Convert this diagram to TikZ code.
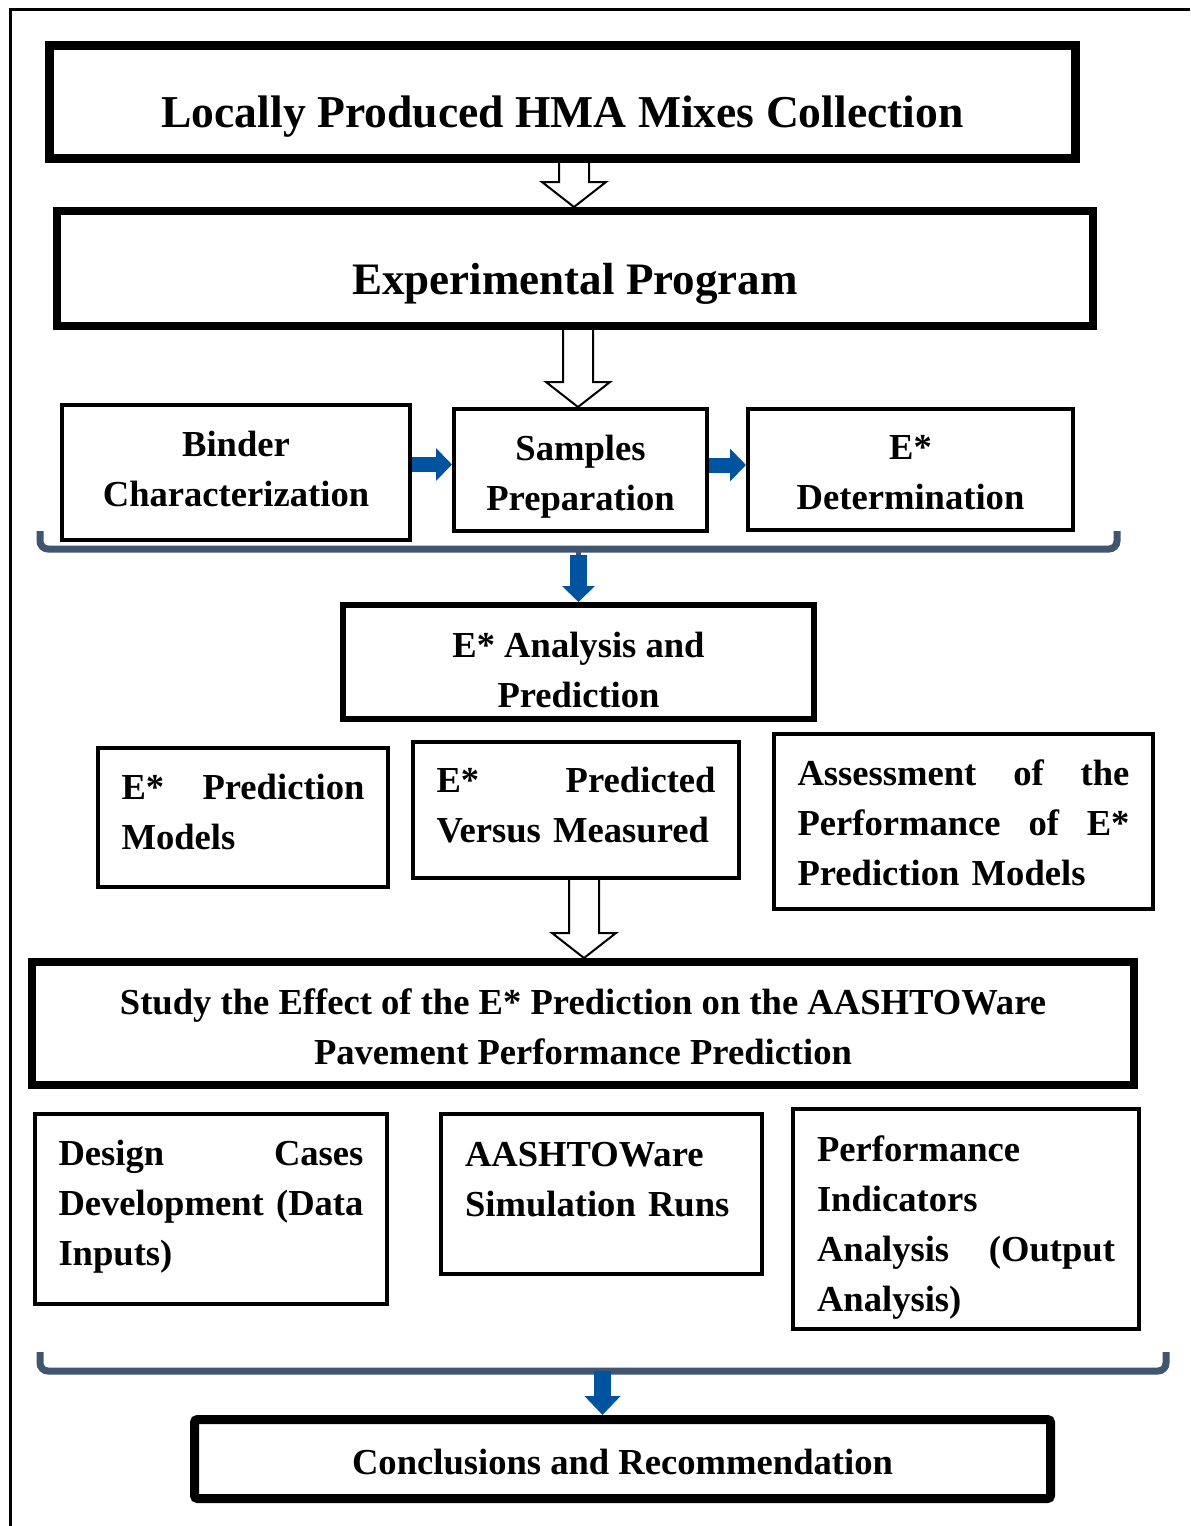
\documentclass[tikz,border=0pt]{standalone}
\usepackage{fontspec}
\setmainfont{Liberation Serif}
\usetikzlibrary{positioning, calc, arrows.meta}

\definecolor{arrblue}{RGB}{0,84,159}
\definecolor{bracegrey}{RGB}{63,85,112}

\begin{document}
\begin{tikzpicture}[
  x=0.5pt, y=-0.5pt,
  every node/.style={font=\bfseries\fontsize{18.3}{25}\selectfont, inner sep=0pt},
  bigbox/.style={draw, line width=4.5pt, font=\bfseries\fontsize{22.8}{28}\selectfont, text height=25pt, text depth=0pt},
  box/.style={draw, line width=2pt, text height=13pt},
  hollow/.style={draw, line width=1pt, line join=miter},
  bluearr/.style={draw=arrblue, line width=7.5pt, -{Triangle[length=8pt, width=16pt]}},
  brace/.style={draw=bracegrey, line width=3.5pt, rounded corners=4pt},
]
\useasboundingbox (0,0) rectangle (1190,1526);

% Outer frame
\draw[line width=1.5pt] (10,1526) -- (10,9) -- (1190,9);

% Main stages
\node[bigbox, minimum width=513pt, minimum height=56.5pt] (coll) at (562.5,102) {Locally Produced HMA Mixes Collection};
\node[bigbox, line width=4pt, font=\bfseries\fontsize{22.5}{28}\selectfont, text height=25.5pt, minimum width=518pt, minimum height=57.5pt] (expt) at (575,268.5) {Experimental Program};

% Experimental steps
\node[box, text width=160pt, align=flush center, text depth=29.5pt, minimum width=174pt, minimum height=67.5pt] (binder) at (236,472.5) {Binder\\Characterization};
\node[box, text width=120pt, align=flush center, text depth=23pt, minimum width=126.5pt, minimum height=61pt] (samples) at (580.5,470) {Samples\\Preparation};
\node[box, text width=150pt, align=flush center, text depth=23.5pt, minimum width=162.5pt, minimum height=60.5pt] (edet) at (910.5,469.5) {E*\\Determination};

% Analysis
\node[box, line width=3pt, text width=225pt, align=flush center, text depth=18pt, minimum width=235.5pt, minimum height=57pt] (anal) at (578.5,662) {E* Analysis and\\Prediction};
\node[box, text width=121.5pt, align=left, text depth=31.5pt, minimum width=145pt, minimum height=69.5pt] (predm) at (243,817.5) {E*\hfill Prediction\\Models};
\node[box, text width=139.5pt, align=left, text depth=31pt, minimum width=163pt, minimum height=68pt] (pvm) at (576,810) {E*\hfill Predicted\\Versus Measured};
\node[box, text width=166pt, align=left, text depth=49.5pt, minimum width=189.5pt, minimum height=87.5pt] (assess) at (963.5,821.5) {Assessment\hfill of\hfill the\\Performance\hfill of\hfill E*\\Prediction Models};

% Pavement performance study
\node[box, line width=4pt, text width=540pt, align=flush center, text depth=22.5pt, minimum width=551pt, minimum height=61.5pt] (study) at (583,1023.5) {Study the Effect of the E* Prediction on the AASHTOWare\\Pavement Performance Prediction};
\node[box, text width=152.5pt, align=left, text depth=57pt, minimum width=176pt, minimum height=95pt] (design) at (211,1209) {Design\hfill Cases\\Development\hfill (Data\\Inputs)};
\node[box, text width=136.5pt, align=left, text depth=41pt, minimum width=160.5pt, minimum height=80pt] (sim) at (601.5,1194) {AASHTOWare\\Simulation Runs};
\node[box, text width=149pt, align=left, text depth=71pt, minimum width=173pt, minimum height=110pt] (perf) at (966,1219) {Performance\\Indicators\\Analysis\hfill (Output\\Analysis)};

\node[box, line width=4.5pt, rounded corners=1.5pt, text height=15pt, text depth=0pt, minimum width=428pt, minimum height=39.5pt] (concl) at (622.5,1459) {Conclusions and Recommendation};

% Hollow arrows between stages
\foreach \from/\to/\xx in {coll/expt/574, expt/samples/578, pvm/study/584} {
  \coordinate (tip) at (\xx,0 |- \to.north);
  \coordinate (root) at (\xx,0 |- \from.south);
  \draw[hollow] ($(root)+(-15,0)$) -- ($(tip)+(-15,-25)$) -- ($(tip)+(-32,-25)$) -- (tip)
    -- ($(tip)+(32,-25)$) -- ($(tip)+(15,-25)$) -- ($(root)+(15,0)$);
}

% Blue arrows in the experimental row
\draw[bluearr] ([yshift=4pt]binder.east) -- ([yshift=4pt]binder.east -| samples.west);
\draw[bluearr] ([yshift=2.5pt]samples.east) -- ([yshift=2.5pt]samples.east -| edet.west);

% Braces and their arrows
\draw[brace] (40,531) |- (1117,549) -- (1117,531);
\coordinate (b1) at (578.5,549);
\draw[brace, line width=2.5pt] (b1) -- ++(0,17);
\draw[bluearr, line width=8.5pt] ([yshift=-3pt]b1) -- (b1 |- anal.north);

\draw[brace] (40,1352) |- (1166,1371) -- (1166,1352);
\coordinate (b2) at (602.5,1371);
\draw[bluearr, line width=8.5pt, -{Triangle[length=9.5pt, width=17.5pt]}] (b2) -- (b2 |- concl.north);
\end{tikzpicture}
\end{document}
